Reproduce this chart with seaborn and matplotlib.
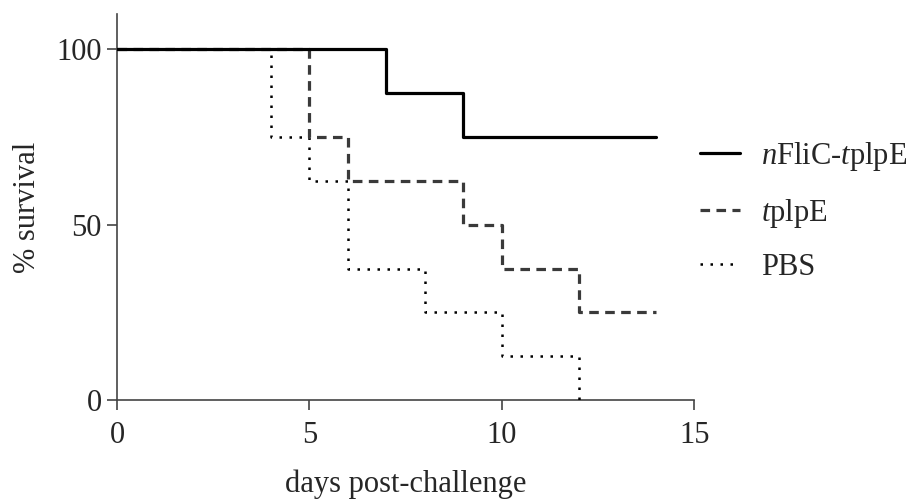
import matplotlib
matplotlib.use("Agg")
import matplotlib.pyplot as plt
import seaborn as sns
import pandas as pd

# Data (Kaplan-Meier step values)
nflic_days = [0, 7, 9, 14]
nflic_surv = [100, 87.5, 75, 75]
tplpe_days = [0, 5, 6, 9, 10, 12, 14]
tplpe_surv = [100, 75, 62.5, 50, 37.5, 25, 25]
pbs_days = [0, 4, 5, 6, 8, 10, 12]
pbs_surv = [100, 75, 62.5, 37.5, 25, 12.5, 0]
labels = [r"$\mathit{n}$FliC-$\mathit{t}$plpE", r"$\mathit{t}$plpE", "PBS"]
xticks = [0, 5, 10, 15]
yticks = [0, 50, 100]

sns.set_style("ticks")
plt.rcParams["font.family"] = ["Liberation Serif", "DejaVu Serif"]
plt.rcParams["mathtext.fontset"] = "custom"
plt.rcParams["mathtext.rm"] = "Liberation Serif"
plt.rcParams["mathtext.it"] = "Liberation Serif:italic"

FS = 22

fig = plt.figure(figsize=(9.19, 4.99), dpi=100)
ax = fig.add_axes([0.1273, 0.198, 0.7557 - 0.1273, 0.972 - 0.198])

df1 = pd.DataFrame({"day": nflic_days, "surv": nflic_surv})
df2 = pd.DataFrame({"day": tplpe_days, "surv": tplpe_surv})
df3 = pd.DataFrame({"day": pbs_days, "surv": pbs_surv})

sns.lineplot(data=df1, x="day", y="surv", ax=ax, color="black", lw=2.3,
             drawstyle="steps-post", estimator=None, label=labels[0], zorder=5)
sns.lineplot(data=df2, x="day", y="surv", ax=ax, color="#3a3a3a", lw=2.3,
             drawstyle="steps-post", estimator=None, label=labels[1],
             linestyle=(0, (3, 2)), zorder=4)
sns.lineplot(data=df3, x="day", y="surv", ax=ax, color="black", lw=1.8,
             drawstyle="steps-post", estimator=None, label=labels[2],
             linestyle=(0, (1, 3)), zorder=3)

ax.set_xlim(0, 15)
ax.set_ylim(0, 110)
ax.set_xticks(xticks)
ax.set_yticks(yticks)
ax.tick_params(axis="both", labelsize=FS, length=7, width=1.2, color="#444444")
ax.tick_params(axis="x", pad=8)
ax.tick_params(axis="y", pad=4)
for side in ["left", "bottom"]:
    ax.spines[side].set_linewidth(1.2)
    ax.spines[side].set_color("#444444")
sns.despine(ax=ax)
ax.spines["left"].set_bounds(0, 110)
ax.spines["bottom"].set_bounds(0, 15)

ax.set_xlabel("days post-challenge", fontsize=FS, labelpad=14)
ax.set_ylabel("% survival", fontsize=FS, labelpad=10)

leg = ax.legend(loc="center left", bbox_to_anchor=(0.762, 0.577),
                bbox_transform=fig.transFigure, frameon=False,
                fontsize=FS, handlelength=1.3, labelspacing=0.77,
                handletextpad=0.68, borderpad=0, borderaxespad=0)

fig.savefig("out.png", dpi=100)
